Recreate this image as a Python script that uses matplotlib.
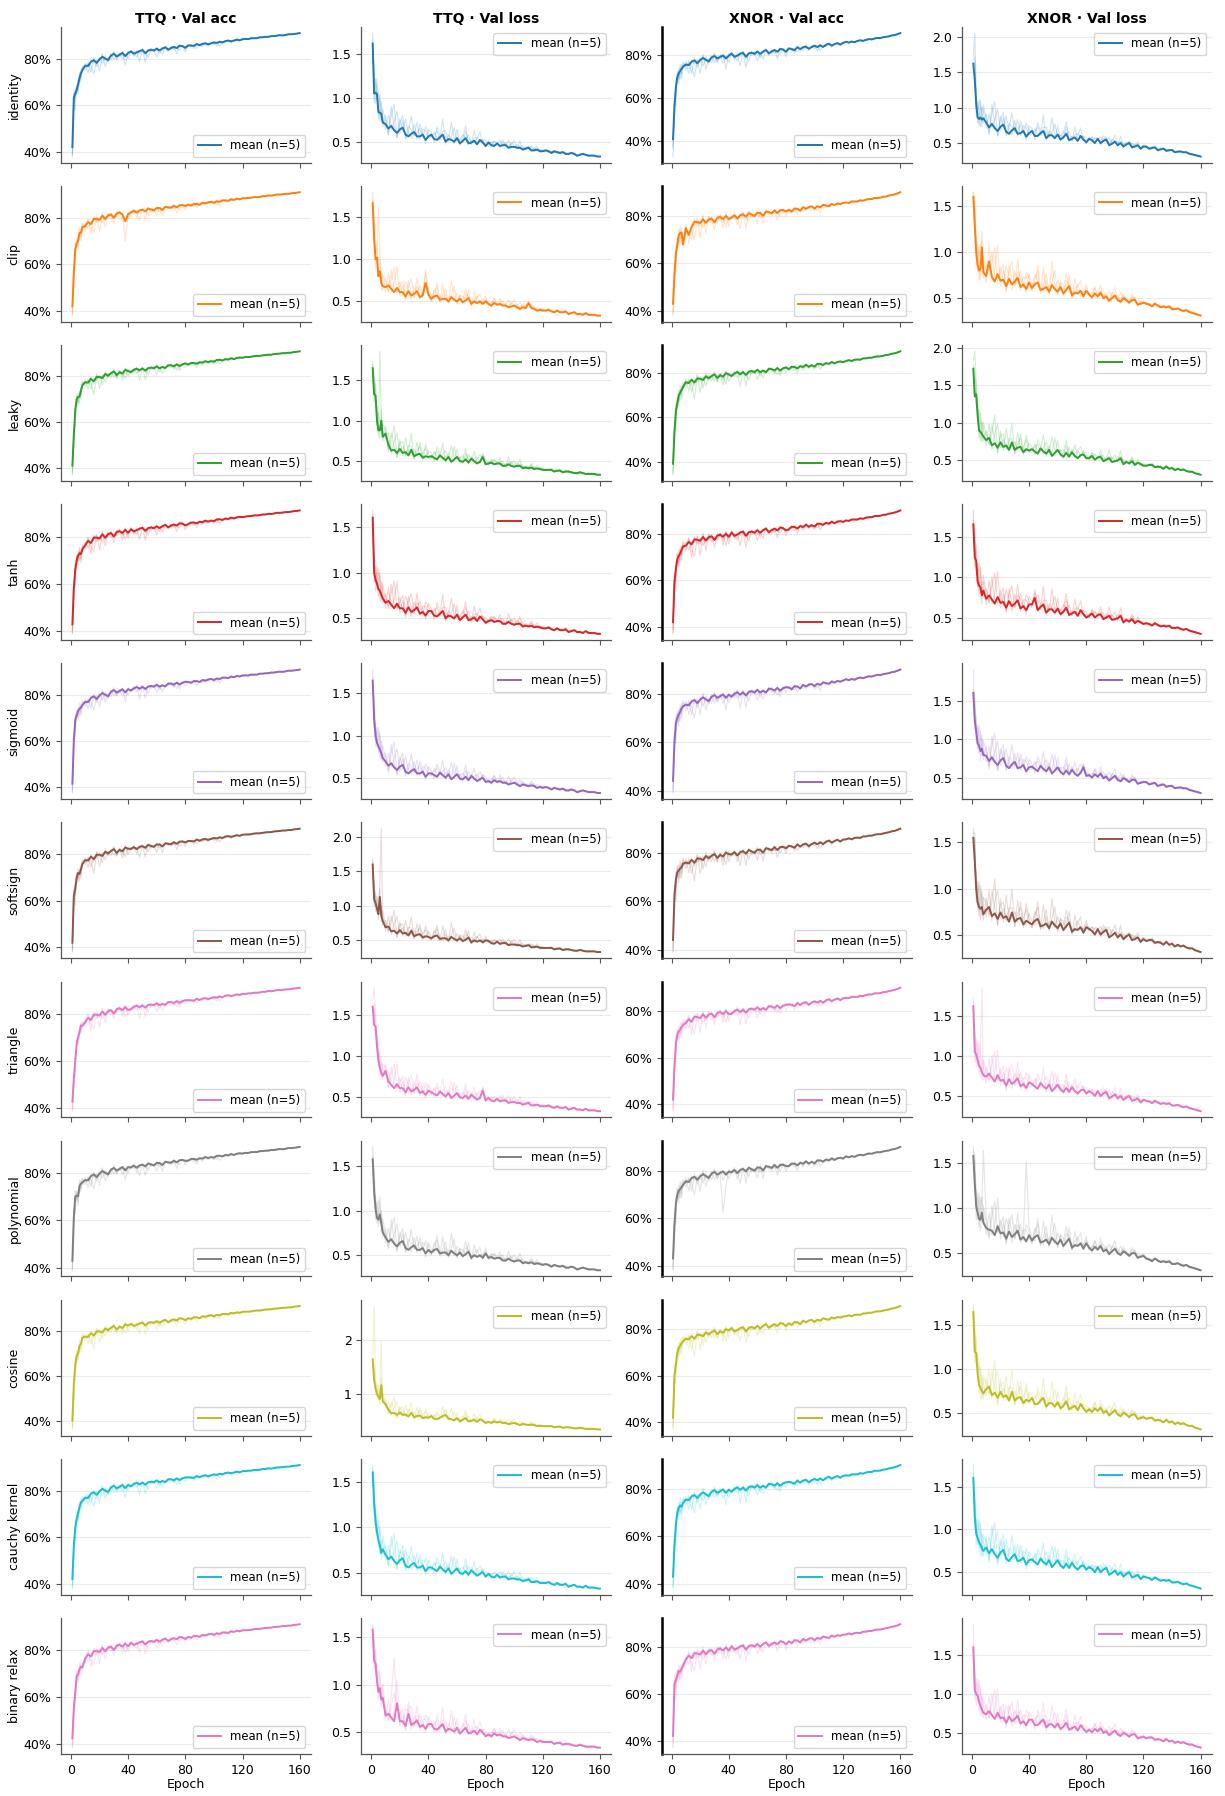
import numpy as np
import matplotlib
matplotlib.use("Agg")
import matplotlib.pyplot as plt
from matplotlib.ticker import PercentFormatter

ACTIVATIONS = ["identity", "clip", "leaky", "tanh", "sigmoid", "softsign",
               "triangle", "polynomial", "cosine", "cauchy kernel", "binary relax"]
COLUMNS = [("TTQ", "acc"), ("TTQ", "loss"), ("XNOR", "acc"), ("XNOR", "loss")]
COLUMN_TITLES = ["TTQ · Val acc", "TTQ · Val loss", "XNOR · Val acc", "XNOR · Val loss"]
COLORS = ["#1f77b4", "#ff7f0e", "#2ca02c", "#d62728", "#9467bd", "#8c564b",
          "#e377c2", "#7f7f7f", "#bcbd22", "#17becf", "#e377c2"]
EPOCHS = list(range(1, 9)) + list(range(10, 161, 2))
X_TICKS = [0, 40, 80, 120, 160]

# ---- mean validation accuracy, tenths of a percent (epochs 1..8, then every 2nd epoch)
acc_ttq_identity = [
    420, 630, 650, 665, 690, 718, 738, 752,
    770, 769, 787, 794, 782, 798, 808, 801, 794, 814, 821, 810, 817, 825, 811, 825,
    831, 822, 827, 833, 837, 824, 835, 839, 835, 843, 836, 844, 849, 839, 846, 851, 846, 856, 854, 847,
    857, 857, 855, 863, 858, 864, 866, 862, 866, 870, 868, 873, 870, 876, 878, 875, 878, 882, 879, 884,
    885, 884, 888, 888, 888, 892, 892, 894, 894, 897, 897, 899, 901, 900, 902, 905, 905, 906, 908, 910]
acc_ttq_clip = [
    420, 560, 665, 690, 702, 735, 736, 760,
    764, 782, 773, 796, 795, 792, 809, 795, 810, 815, 800, 819, 823, 815, 785, 816,
    823, 831, 822, 832, 835, 828, 840, 836, 832, 842, 842, 834, 847, 845, 843, 852, 845, 854, 855, 851,
    856, 853, 860, 860, 856, 865, 862, 867, 869, 865, 871, 869, 875, 875, 873, 880, 877, 882, 880, 884,
    884, 886, 886, 889, 889, 890, 893, 893, 896, 895, 897, 900, 900, 901, 903, 903, 905, 907, 908, 910]
acc_ttq_leaky = [
    410, 540, 650, 700, 710, 712, 738, 762,
    775, 773, 790, 779, 798, 798, 793, 811, 803, 814, 822, 806, 819, 813, 829, 824,
    819, 829, 834, 827, 835, 826, 836, 839, 836, 844, 836, 842, 837, 849, 849, 845, 853, 846, 853, 857,
    852, 859, 859, 856, 862, 861, 867, 863, 867, 865, 872, 873, 870, 876, 874, 880, 876, 881, 883, 882,
    885, 885, 886, 889, 890, 890, 892, 894, 895, 895, 898, 899, 900, 902, 902, 904, 904, 907, 908, 910]
acc_ttq_tanh = [
    430, 580, 660, 700, 720, 730, 726, 746,
    764, 782, 773, 796, 795, 792, 809, 795, 810, 815, 800, 819, 823, 815, 828, 816,
    831, 822, 827, 833, 837, 824, 835, 839, 835, 843, 836, 844, 849, 839, 846, 851, 846, 856, 854, 847,
    852, 859, 859, 856, 862, 861, 867, 863, 867, 865, 872, 873, 870, 876, 874, 880, 876, 881, 883, 882,
    884, 886, 886, 889, 889, 890, 893, 893, 896, 895, 897, 900, 900, 901, 903, 903, 905, 907, 908, 910]
acc_ttq_sigmoid = [
    415, 600, 690, 712, 730, 740, 745, 756,
    770, 769, 787, 794, 782, 798, 808, 801, 794, 814, 821, 810, 817, 825, 811, 825,
    819, 829, 834, 827, 835, 826, 836, 839, 836, 844, 836, 842, 837, 849, 849, 845, 853, 846, 853, 857,
    856, 853, 860, 860, 856, 865, 862, 867, 869, 865, 871, 869, 875, 875, 873, 880, 877, 882, 880, 884,
    885, 884, 888, 888, 888, 892, 892, 894, 894, 897, 897, 899, 901, 900, 902, 905, 905, 906, 908, 910]
acc_ttq_softsign = [
    420, 620, 652, 700, 720, 716, 736, 758,
    775, 773, 790, 779, 798, 798, 793, 811, 803, 814, 822, 806, 819, 813, 829, 824,
    823, 831, 822, 832, 835, 828, 840, 836, 832, 842, 842, 834, 847, 845, 843, 852, 845, 854, 855, 851,
    857, 857, 855, 863, 858, 864, 866, 862, 866, 870, 868, 873, 870, 876, 878, 875, 878, 882, 879, 884,
    885, 885, 886, 889, 890, 890, 892, 894, 895, 895, 898, 899, 900, 902, 902, 904, 904, 907, 908, 910]
acc_ttq_triangle = [
    425, 520, 600, 670, 700, 722, 750, 748,
    764, 782, 773, 796, 795, 792, 809, 795, 810, 815, 800, 819, 823, 815, 828, 816,
    819, 829, 834, 827, 835, 826, 836, 839, 836, 844, 836, 842, 837, 849, 849, 845, 853, 846, 853, 857,
    857, 857, 855, 863, 858, 864, 866, 862, 866, 870, 868, 873, 870, 876, 878, 875, 878, 882, 879, 884,
    884, 886, 886, 889, 889, 890, 893, 893, 896, 895, 897, 900, 900, 901, 903, 903, 905, 907, 908, 910]
acc_ttq_polynomial = [
    430, 610, 700, 705, 702, 745, 755, 760,
    770, 769, 787, 794, 782, 798, 808, 801, 794, 814, 821, 810, 817, 825, 811, 825,
    823, 831, 822, 832, 835, 828, 840, 836, 832, 842, 842, 834, 847, 845, 843, 852, 845, 854, 855, 851,
    852, 859, 859, 856, 862, 861, 867, 863, 867, 865, 872, 873, 870, 876, 874, 880, 876, 881, 883, 882,
    885, 884, 888, 888, 888, 892, 892, 894, 894, 897, 897, 899, 901, 900, 902, 905, 905, 906, 908, 910]
acc_ttq_cosine = [
    405, 560, 650, 690, 700, 735, 742, 770,
    775, 773, 790, 779, 798, 798, 793, 811, 803, 814, 822, 806, 819, 813, 829, 824,
    831, 822, 827, 833, 837, 824, 835, 839, 835, 843, 836, 844, 849, 839, 846, 851, 846, 856, 854, 847,
    856, 853, 860, 860, 856, 865, 862, 867, 869, 865, 871, 869, 875, 875, 873, 880, 877, 882, 880, 884,
    885, 885, 886, 889, 890, 890, 892, 894, 895, 895, 898, 899, 900, 902, 902, 904, 904, 907, 908, 910]
acc_ttq_cauchy_kernel = [
    420, 560, 640, 680, 702, 730, 750, 756,
    770, 769, 787, 794, 782, 798, 808, 801, 794, 814, 821, 810, 817, 825, 811, 825,
    819, 829, 834, 827, 835, 826, 836, 839, 836, 844, 836, 842, 837, 849, 849, 845, 853, 846, 853, 857,
    857, 857, 855, 863, 858, 864, 866, 862, 866, 870, 868, 873, 870, 876, 878, 875, 878, 882, 879, 884,
    884, 886, 886, 889, 889, 890, 893, 893, 896, 895, 897, 900, 900, 901, 903, 903, 905, 907, 908, 910]
acc_ttq_binary_relax = [
    425, 550, 620, 690, 696, 720, 730, 726,
    764, 782, 773, 796, 795, 792, 809, 795, 810, 815, 800, 819, 823, 815, 828, 816,
    831, 822, 827, 833, 837, 824, 835, 839, 835, 843, 836, 844, 849, 839, 846, 851, 846, 856, 854, 847,
    856, 853, 860, 860, 856, 865, 862, 867, 869, 865, 871, 869, 875, 875, 873, 880, 877, 882, 880, 884,
    885, 885, 886, 889, 890, 890, 892, 894, 895, 895, 898, 899, 900, 902, 902, 904, 904, 907, 908, 910]

acc_xnor_identity = [
    410, 560, 650, 695, 715, 725, 735, 745,
    755, 752, 768, 774, 761, 776, 785, 777, 769, 788, 794, 783, 790, 797, 783, 796,
    805, 791, 796, 805, 809, 791, 806, 810, 804, 815, 804, 815, 822, 807, 815, 822, 814, 827, 824, 814,
    829, 827, 821, 835, 826, 835, 838, 828, 836, 842, 836, 844, 836, 846, 851, 843, 849, 854, 847, 855,
    860, 856, 861, 858, 864, 867, 864, 869, 872, 871, 875, 878, 877, 881, 883, 885, 889, 891, 895, 900]
acc_xnor_clip = [
    430, 550, 640, 680, 720, 728, 730, 680,
    749, 720, 754, 776, 774, 770, 786, 771, 785, 789, 773, 792, 796, 787, 800, 787,
    793, 803, 789, 803, 807, 797, 812, 806, 800, 813, 813, 801, 819, 816, 811, 824, 812, 824, 825, 819,
    826, 819, 831, 830, 822, 837, 830, 838, 840, 832, 841, 837, 847, 844, 841, 851, 846, 853, 850, 855,
    857, 855, 861, 861, 861, 866, 864, 869, 871, 871, 876, 876, 877, 881, 882, 886, 888, 891, 895, 900]
acc_xnor_leaky = [
    390, 530, 630, 665, 700, 712, 725, 738,
    760, 756, 771, 759, 777, 776, 770, 787, 778, 788, 795, 779, 792, 785, 801, 795,
    788, 800, 806, 796, 806, 793, 807, 811, 805, 816, 805, 813, 805, 821, 819, 814, 824, 813, 823, 827,
    819, 830, 829, 823, 833, 829, 839, 830, 837, 831, 843, 843, 838, 847, 843, 852, 845, 852, 854, 851,
    856, 860, 856, 862, 863, 862, 868, 868, 871, 871, 875, 877, 877, 880, 883, 885, 889, 891, 895, 900]
acc_xnor_tanh = [
    420, 590, 650, 690, 705, 715, 730, 745,
    749, 765, 754, 776, 774, 770, 786, 771, 785, 789, 773, 792, 796, 787, 800, 787,
    805, 791, 796, 805, 809, 791, 806, 810, 804, 815, 804, 815, 822, 807, 815, 822, 814, 827, 824, 814,
    819, 830, 829, 823, 833, 829, 839, 830, 837, 831, 843, 843, 838, 847, 843, 852, 845, 852, 854, 851,
    857, 855, 861, 861, 861, 866, 864, 869, 871, 871, 876, 876, 877, 881, 882, 886, 888, 891, 895, 900]
acc_xnor_sigmoid = [
    440, 600, 680, 700, 715, 725, 740, 748,
    755, 752, 768, 774, 761, 776, 785, 777, 769, 788, 794, 783, 790, 797, 783, 796,
    788, 800, 806, 796, 806, 793, 807, 811, 805, 816, 805, 813, 805, 821, 819, 814, 824, 813, 823, 827,
    826, 819, 831, 830, 822, 837, 830, 838, 840, 832, 841, 837, 847, 844, 841, 851, 846, 853, 850, 855,
    860, 856, 861, 858, 864, 867, 864, 869, 872, 871, 875, 878, 877, 881, 883, 885, 889, 891, 895, 900]
acc_xnor_softsign = [
    440, 620, 690, 720, 728, 735, 740, 755,
    760, 756, 771, 759, 777, 776, 770, 787, 778, 788, 795, 779, 792, 785, 801, 795,
    793, 803, 789, 803, 807, 797, 812, 806, 800, 813, 813, 801, 819, 816, 811, 824, 812, 824, 825, 819,
    829, 827, 821, 835, 826, 835, 838, 828, 836, 842, 836, 844, 836, 846, 851, 843, 849, 854, 847, 855,
    856, 860, 856, 862, 863, 862, 868, 868, 871, 871, 875, 877, 877, 880, 883, 885, 889, 891, 895, 900]
acc_xnor_triangle = [
    420, 560, 660, 700, 712, 720, 732, 740,
    749, 765, 754, 776, 774, 770, 786, 771, 785, 789, 773, 792, 796, 787, 800, 787,
    788, 800, 806, 796, 806, 793, 807, 811, 805, 816, 805, 813, 805, 821, 819, 814, 824, 813, 823, 827,
    829, 827, 821, 835, 826, 835, 838, 828, 836, 842, 836, 844, 836, 846, 851, 843, 849, 854, 847, 855,
    857, 855, 861, 861, 861, 866, 864, 869, 871, 871, 876, 876, 877, 881, 882, 886, 888, 891, 895, 900]
acc_xnor_polynomial = [
    430, 570, 660, 700, 715, 722, 730, 740,
    755, 752, 768, 774, 761, 776, 785, 777, 769, 788, 794, 783, 790, 797, 783, 796,
    793, 803, 789, 803, 807, 797, 812, 806, 800, 813, 813, 801, 819, 816, 811, 824, 812, 824, 825, 819,
    819, 830, 829, 823, 833, 829, 839, 830, 837, 831, 843, 843, 838, 847, 843, 852, 845, 852, 854, 851,
    860, 856, 861, 858, 864, 867, 864, 869, 872, 871, 875, 878, 877, 881, 883, 885, 889, 891, 895, 900]
acc_xnor_cosine = [
    420, 600, 650, 700, 720, 730, 740, 748,
    760, 756, 771, 759, 777, 776, 770, 787, 778, 788, 795, 779, 792, 785, 801, 795,
    805, 791, 796, 805, 809, 791, 806, 810, 804, 815, 804, 815, 822, 807, 815, 822, 814, 827, 824, 814,
    826, 819, 831, 830, 822, 837, 830, 838, 840, 832, 841, 837, 847, 844, 841, 851, 846, 853, 850, 855,
    856, 860, 856, 862, 863, 862, 868, 868, 871, 871, 875, 877, 877, 880, 883, 885, 889, 891, 895, 900]
acc_xnor_cauchy_kernel = [
    430, 560, 650, 700, 720, 730, 725, 740,
    755, 752, 768, 774, 761, 776, 785, 777, 769, 788, 794, 783, 790, 797, 783, 796,
    788, 800, 806, 796, 806, 793, 807, 811, 805, 816, 805, 813, 805, 821, 819, 814, 824, 813, 823, 827,
    829, 827, 821, 835, 826, 835, 838, 828, 836, 842, 836, 844, 836, 846, 851, 843, 849, 854, 847, 855,
    857, 855, 861, 861, 861, 866, 864, 869, 871, 871, 876, 876, 877, 881, 882, 886, 888, 891, 895, 900]
acc_xnor_binary_relax = [
    420, 640, 660, 680, 700, 695, 710, 720,
    749, 765, 754, 776, 774, 770, 786, 771, 785, 789, 773, 792, 796, 787, 800, 787,
    805, 791, 796, 805, 809, 791, 806, 810, 804, 815, 804, 815, 822, 807, 815, 822, 814, 827, 824, 814,
    826, 819, 831, 830, 822, 837, 830, 838, 840, 832, 841, 837, 847, 844, 841, 851, 846, 853, 850, 855,
    856, 860, 856, 862, 863, 862, 868, 868, 871, 871, 875, 877, 877, 880, 883, 885, 889, 891, 895, 900]

# ---- mean validation loss, hundredths (same epoch grid)
loss_ttq_identity = [
    162, 105, 106, 104, 84, 83, 82, 72,
    70, 65, 68, 63, 60, 64, 66, 58, 56, 59, 61, 56, 56, 58, 52, 56,
    58, 53, 52, 55, 58, 50, 53, 52, 50, 54, 48, 51, 54, 48, 49, 51, 47, 52, 49, 45,
    49, 46, 45, 48, 45, 46, 46, 43, 44, 44, 43, 43, 41, 42, 43, 40, 40, 41, 39, 39,
    40, 39, 37, 39, 38, 37, 38, 36, 36, 37, 36, 34, 35, 36, 35, 34, 34, 34, 33, 33]
loss_ttq_clip = [
    167, 125, 100, 102, 80, 86, 72, 68,
    67, 69, 65, 61, 66, 61, 61, 56, 62, 57, 59, 62, 55, 57, 72, 58,
    53, 56, 57, 52, 53, 53, 50, 55, 52, 50, 53, 49, 51, 54, 47, 50, 48, 50, 47, 50,
    47, 45, 48, 46, 47, 45, 45, 43, 44, 45, 43, 41, 43, 42, 48, 42, 41, 39, 40, 39,
    39, 40, 38, 37, 39, 37, 37, 38, 35, 36, 37, 35, 35, 34, 36, 34, 34, 34, 33, 33]
loss_ttq_leaky = [
    165, 133, 131, 100, 88, 88, 100, 80,
    84, 70, 63, 64, 60, 65, 60, 61, 57, 64, 56, 58, 59, 54, 56, 55,
    56, 54, 52, 57, 54, 51, 55, 49, 52, 55, 50, 49, 52, 48, 53, 50, 47, 49, 55, 46,
    47, 48, 46, 47, 47, 44, 44, 46, 44, 43, 44, 44, 41, 42, 41, 42, 40, 41, 40, 39,
    39, 39, 39, 37, 38, 38, 36, 37, 37, 36, 35, 35, 36, 35, 34, 34, 34, 34, 33, 33]
loss_ttq_tanh = [
    160, 100, 92, 88, 82, 80, 76, 72,
    67, 69, 65, 61, 66, 61, 61, 56, 62, 57, 59, 62, 55, 57, 53, 58,
    58, 53, 52, 55, 58, 50, 53, 52, 50, 54, 48, 51, 54, 48, 49, 51, 47, 52, 49, 45,
    47, 48, 46, 47, 47, 44, 44, 46, 44, 43, 44, 44, 41, 42, 41, 42, 40, 41, 40, 39,
    39, 40, 38, 37, 39, 37, 37, 38, 35, 36, 37, 35, 35, 34, 36, 34, 34, 34, 33, 33]
loss_ttq_sigmoid = [
    165, 120, 100, 92, 88, 84, 80, 74,
    70, 65, 68, 63, 60, 64, 66, 58, 56, 59, 61, 56, 56, 58, 52, 56,
    56, 54, 52, 57, 54, 51, 55, 49, 52, 55, 50, 49, 52, 48, 53, 50, 47, 49, 51, 46,
    47, 45, 48, 46, 47, 45, 45, 43, 44, 45, 43, 41, 43, 42, 41, 42, 41, 39, 40, 39,
    40, 39, 37, 39, 38, 37, 38, 36, 36, 37, 36, 34, 35, 36, 35, 34, 34, 34, 33, 33]
loss_ttq_softsign = [
    160, 110, 104, 96, 88, 113, 86, 78,
    69, 70, 63, 64, 60, 65, 60, 61, 57, 64, 56, 58, 59, 54, 56, 55,
    53, 56, 57, 52, 53, 53, 50, 55, 52, 50, 53, 49, 51, 54, 47, 50, 48, 50, 47, 50,
    49, 46, 45, 48, 45, 46, 46, 43, 44, 44, 43, 43, 41, 42, 43, 40, 40, 41, 39, 39,
    39, 39, 39, 37, 38, 38, 36, 37, 37, 36, 35, 35, 36, 35, 34, 34, 34, 34, 33, 33]
loss_ttq_triangle = [
    160, 138, 136, 112, 95, 86, 80, 76,
    82, 69, 65, 61, 66, 61, 61, 56, 62, 57, 59, 62, 55, 57, 53, 58,
    56, 54, 52, 57, 54, 51, 55, 49, 52, 55, 50, 49, 52, 48, 53, 50, 47, 49, 58, 46,
    49, 46, 45, 48, 45, 46, 46, 43, 44, 44, 43, 43, 41, 42, 43, 40, 40, 41, 39, 39,
    39, 40, 38, 37, 39, 37, 37, 38, 35, 36, 37, 35, 35, 34, 36, 34, 34, 34, 33, 33]
loss_ttq_polynomial = [
    158, 122, 102, 92, 90, 96, 86, 76,
    70, 65, 68, 63, 60, 64, 66, 58, 56, 59, 61, 56, 56, 58, 52, 56,
    53, 56, 57, 52, 53, 53, 50, 55, 52, 50, 53, 49, 51, 54, 47, 50, 48, 50, 47, 52,
    47, 48, 46, 47, 47, 44, 44, 46, 44, 43, 44, 44, 41, 42, 41, 42, 40, 41, 40, 39,
    40, 39, 37, 39, 38, 37, 38, 36, 36, 37, 36, 34, 35, 36, 35, 34, 34, 34, 33, 33]
loss_ttq_cosine = [
    164, 125, 110, 100, 94, 90, 116, 86,
    80, 70, 63, 64, 60, 65, 60, 61, 57, 64, 56, 58, 59, 54, 56, 55,
    58, 53, 52, 55, 58, 60, 53, 52, 50, 54, 48, 51, 54, 48, 49, 51, 47, 52, 49, 45,
    47, 45, 48, 46, 47, 45, 45, 43, 44, 45, 43, 41, 43, 42, 41, 42, 41, 39, 40, 39,
    39, 39, 39, 37, 38, 38, 36, 37, 37, 36, 35, 35, 36, 35, 34, 34, 34, 34, 33, 33]
loss_ttq_cauchy_kernel = [
    160, 126, 106, 95, 86, 80, 72, 76,
    70, 65, 68, 63, 60, 64, 66, 58, 56, 59, 61, 56, 56, 58, 52, 56,
    56, 54, 52, 57, 54, 51, 55, 49, 52, 55, 50, 49, 52, 48, 53, 50, 47, 49, 51, 46,
    49, 46, 45, 48, 45, 46, 46, 43, 44, 44, 43, 43, 41, 42, 43, 40, 40, 41, 39, 39,
    39, 40, 38, 37, 39, 37, 37, 38, 35, 36, 37, 35, 35, 34, 36, 34, 34, 34, 33, 33]
loss_ttq_binary_relax = [
    158, 126, 122, 104, 92, 96, 84, 86,
    67, 69, 65, 61, 80, 61, 61, 56, 69, 57, 59, 62, 55, 57, 53, 58,
    58, 53, 52, 55, 58, 50, 53, 52, 50, 54, 48, 51, 54, 48, 49, 51, 47, 52, 49, 45,
    47, 45, 48, 46, 47, 45, 45, 43, 44, 45, 43, 41, 43, 42, 41, 42, 41, 39, 40, 39,
    39, 39, 39, 37, 38, 38, 36, 37, 37, 36, 35, 35, 36, 35, 34, 34, 34, 34, 33, 33]

loss_xnor_identity = [
    162, 140, 105, 86, 84, 86, 83, 85,
    79, 72, 77, 71, 67, 73, 76, 66, 63, 68, 71, 63, 64, 67, 59, 64,
    67, 60, 60, 64, 67, 57, 61, 61, 57, 62, 55, 58, 63, 54, 56, 58, 53, 60, 55, 51,
    56, 54, 50, 56, 50, 53, 55, 47, 49, 52, 47, 50, 45, 48, 50, 44, 45, 47, 42, 45,
    45, 42, 43, 44, 40, 41, 42, 39, 40, 40, 37, 38, 38, 37, 37, 35, 34, 33, 32, 31]
loss_xnor_clip = [
    160, 130, 100, 86, 80, 82, 105, 78,
    74, 90, 73, 68, 76, 69, 70, 63, 71, 65, 68, 72, 62, 65, 60, 67,
    61, 65, 67, 59, 60, 62, 57, 64, 60, 57, 62, 55, 59, 63, 53, 56, 55, 58, 52, 58,
    54, 51, 55, 52, 56, 50, 52, 47, 50, 53, 48, 46, 50, 48, 45, 48, 48, 43, 44, 45,
    44, 43, 41, 44, 42, 40, 41, 40, 41, 38, 38, 39, 37, 36, 37, 35, 34, 33, 32, 31]
loss_xnor_leaky = [
    172, 135, 138, 110, 90, 88, 85, 82,
    77, 80, 70, 73, 67, 74, 68, 70, 64, 74, 64, 67, 68, 61, 65, 63,
    65, 62, 59, 66, 62, 59, 64, 56, 60, 64, 58, 55, 60, 55, 61, 56, 53, 57, 58, 53,
    53, 56, 51, 54, 55, 49, 51, 53, 48, 49, 50, 53, 45, 48, 46, 49, 44, 47, 45, 43,
    43, 44, 44, 41, 42, 41, 39, 42, 39, 40, 37, 39, 37, 38, 36, 35, 35, 33, 32, 31]
loss_xnor_tanh = [
    165, 125, 120, 95, 90, 88, 78, 84,
    74, 78, 73, 68, 76, 69, 70, 63, 71, 65, 68, 72, 62, 65, 60, 67,
    67, 75, 60, 64, 67, 57, 61, 61, 57, 62, 55, 58, 63, 54, 56, 58, 53, 60, 55, 51,
    53, 56, 51, 54, 55, 49, 51, 53, 48, 49, 50, 53, 45, 48, 46, 49, 44, 47, 45, 43,
    44, 43, 41, 44, 42, 40, 41, 40, 41, 38, 38, 39, 37, 36, 37, 35, 34, 33, 32, 31]
loss_xnor_sigmoid = [
    160, 125, 110, 95, 92, 85, 88, 80,
    79, 72, 77, 71, 67, 73, 76, 66, 63, 68, 71, 63, 64, 67, 59, 64,
    65, 62, 59, 66, 62, 59, 64, 56, 60, 64, 58, 55, 60, 55, 61, 56, 53, 57, 64, 53,
    54, 51, 55, 52, 56, 50, 52, 47, 50, 53, 48, 46, 50, 48, 45, 48, 48, 43, 44, 45,
    45, 42, 43, 44, 40, 41, 42, 39, 40, 40, 37, 38, 38, 37, 37, 35, 34, 33, 32, 31]
loss_xnor_softsign = [
    155, 130, 100, 85, 80, 78, 80, 72,
    77, 80, 70, 73, 67, 74, 68, 70, 64, 74, 64, 67, 68, 61, 65, 63,
    61, 65, 67, 59, 60, 62, 57, 64, 60, 57, 62, 55, 59, 63, 53, 56, 55, 58, 52, 58,
    56, 54, 50, 56, 50, 53, 55, 47, 49, 52, 47, 50, 45, 48, 50, 44, 45, 47, 42, 45,
    43, 44, 44, 41, 42, 41, 39, 42, 39, 40, 37, 39, 37, 38, 36, 35, 35, 33, 32, 31]
loss_xnor_triangle = [
    162, 105, 102, 95, 88, 85, 80, 76,
    74, 78, 73, 68, 76, 69, 70, 63, 71, 65, 68, 72, 62, 65, 60, 67,
    65, 62, 59, 66, 62, 59, 64, 56, 60, 64, 58, 55, 60, 55, 61, 56, 53, 57, 58, 53,
    56, 54, 50, 56, 50, 53, 55, 47, 49, 52, 47, 50, 45, 48, 50, 44, 45, 47, 42, 45,
    44, 43, 41, 44, 42, 40, 41, 40, 41, 38, 38, 39, 37, 36, 37, 35, 34, 33, 32, 31]
loss_xnor_polynomial = [
    158, 128, 102, 95, 88, 87, 95, 84,
    78, 76, 75, 70, 80, 72, 73, 66, 74, 68, 71, 75, 65, 68, 63, 70,
    64, 68, 70, 62, 63, 65, 60, 67, 63, 60, 65, 58, 62, 66, 56, 59, 58, 61, 55, 61,
    56, 53, 57, 54, 58, 52, 54, 49, 52, 55, 50, 48, 52, 50, 47, 50, 50, 45, 46, 47,
    44, 43, 41, 44, 42, 40, 41, 40, 41, 38, 38, 39, 37, 36, 37, 35, 34, 33, 32, 31]
loss_xnor_cosine = [
    165, 120, 118, 95, 82, 78, 75, 72,
    77, 80, 70, 73, 67, 74, 68, 70, 64, 74, 64, 67, 68, 61, 65, 63,
    67, 60, 60, 64, 67, 57, 61, 61, 57, 62, 55, 58, 63, 54, 56, 58, 53, 60, 55, 51,
    54, 51, 55, 52, 56, 50, 52, 47, 50, 53, 48, 46, 50, 48, 45, 48, 48, 43, 44, 45,
    43, 44, 44, 41, 42, 41, 39, 42, 39, 40, 37, 39, 37, 38, 36, 35, 35, 33, 32, 31]
loss_xnor_cauchy_kernel = [
    160, 115, 95, 90, 85, 82, 78, 75,
    79, 72, 77, 71, 67, 73, 76, 66, 63, 68, 71, 63, 64, 67, 59, 64,
    65, 62, 59, 66, 62, 59, 64, 56, 60, 64, 58, 55, 60, 55, 61, 56, 53, 57, 58, 53,
    56, 54, 50, 56, 50, 53, 55, 47, 49, 52, 47, 50, 45, 48, 50, 44, 45, 47, 42, 45,
    44, 43, 41, 44, 42, 40, 41, 40, 41, 38, 38, 39, 37, 36, 37, 35, 34, 33, 32, 31]
loss_xnor_binary_relax = [
    160, 105, 100, 98, 90, 85, 80, 76,
    74, 78, 73, 68, 76, 69, 70, 63, 71, 65, 68, 72, 62, 65, 60, 67,
    67, 60, 60, 64, 67, 57, 61, 61, 57, 62, 55, 58, 63, 54, 56, 58, 53, 60, 55, 51,
    54, 51, 55, 52, 56, 50, 52, 47, 50, 53, 48, 46, 50, 48, 45, 48, 48, 43, 44, 45,
    43, 44, 44, 41, 42, 41, 39, 42, 39, 40, 37, 39, 37, 38, 36, 35, 35, 33, 32, 31]

# ---- individual seeds: offsets from the mean (accuracy in tenths of a percent, loss in hundredths)
acc_seed_a = [
    -40, 20, -30, 15, -25, 10, -35, 12,
    -20, 15, -45, 10, -15, 8, -30, 12, -10, 6, -25, 9, -8, 5, -40, 7,
    -6, 8, -20, 5, -4, 6, -30, 4, -5, 7, -15, 3, -4, 5, -10, 3, -25, 4, -3, 5,
    -4, 3, -12, 4, -3, 2, -8, 3, -2, 4, -15, 2, -3, 2, -5, 2, -2, 3, -4, 1,
    -2, 2, -3, 1, -2, 2, -1, 1, -2, 1, -1, 2, -1, 1, -1, 1, -1, 1, -1, 0]
acc_seed_b = [
    -35, -60, 25, -20, 18, -30, 15, -10,
    12, -30, 8, -12, 14, -50, 6, -9, 10, -20, 5, -12, 7, -30, 4, -8,
    6, -12, 4, -45, 5, -8, 3, -10, 6, -35, 4, -6, 3, -8, 5, -12, 2, -20, 3, -5,
    3, -6, 2, -18, 4, -5, 2, -7, 3, -10, 2, -4, 3, -6, 1, -8, 2, -3, 1, -2,
    1, -2, 2, -1, 1, -3, 1, -1, 2, -1, 1, -2, 0, -1, 1, -1, 0, -1, 1, 0]
acc_seed_c = [
    -25, 35, -70, 22, -40, 25, -20, 18,
    -8, 10, -15, -60, 9, -10, 14, -35, 8, -6, 11, -15, 6, -12, 9, -25,
    5, -6, 8, -10, 4, -40, 6, -5, 7, -12, 3, -28, 5, -4, 6, -9, 3, -6, 4, -18,
    3, -4, 5, -6, 2, -12, 3, -4, 2, -5, 3, -20, 2, -3, 2, -4, 1, -2, 2, -3,
    1, -1, 2, -2, 1, -1, 1, -2, 1, -1, 0, -1, 1, -1, 0, -1, 1, 0, -1, 0]
loss_seed_a = [
    8, -10, 15, 5, -8, 20, 6, -5,
    10, -6, 22, 4, -5, 12, -4, 18, 3, -5, 9, -3, 14, 2, -4, 8,
    3, -4, 15, 2, -3, 6, -2, 20, 3, -3, 5, -2, 8, 2, -2, 12, 1, -2, 4, -1,
    2, -2, 6, 1, -2, 3, -1, 9, 1, -1, 4, -1, 2, 1, -1, 5, 1, -1, 2, 0,
    1, -1, 2, 0, -1, 1, 0, 2, -1, 1, 0, -1, 1, 0, 0, 1, 0, 0, 1, 0]
loss_seed_b = [
    -5, 20, -12, 18, 10, -10, 14, 8,
    -6, 15, -4, 10, 25, -5, 8, -3, 12, 4, -4, 16, -3, 6, 10, -2,
    -3, 8, 2, -2, 18, -3, 5, 1, -2, 10, -2, 4, 14, -1, 3, -2, 6, 9, -1, 3,
    -2, 4, 1, -1, 7, -1, 3, -1, 5, 1, -1, 8, -1, 2, 1, -1, 3, -1, 1, 2,
    -1, 1, 0, 1, -1, 2, 0, -1, 1, 0, 1, -1, 0, 1, 0, -1, 0, 1, 0, 0]
loss_seed_c = [
    4, 25, 8, -6, 22, 12, -8, 15,
    5, -8, 12, 30, -6, 7, 14, -5, 6, 20, -4, 5, 9, -3, 15, 4,
    -2, 5, 10, -3, 4, 12, -2, 3, 16, -2, 4, 7, -1, 10, -2, 3, 8, -1, 3, 6,
    -1, 3, 5, -1, 2, 6, -1, 2, 3, 7, -1, 2, 4, -1, 2, 3, 0, 4, -1, 1,
    0, 1, 1, -1, 1, 0, 1, 0, -1, 1, 0, 0, 1, -1, 0, 0, 1, 0, 0, 0]

SEED_SPREAD = {"TTQ": 1.0, "XNOR": 1.25}

# single-seed excursions (epoch, value): percent for accuracy, raw value for loss
SEED_SPIKES = {
    ("TTQ", "acc", "clip"): [(38, 70.0)],
    ("TTQ", "loss", "identity"): [(1, 1.74)],
    ("TTQ", "loss", "clip"): [(1, 1.80), (5, 1.62)],
    ("TTQ", "loss", "leaky"): [(6, 1.86)],
    ("TTQ", "loss", "sigmoid"): [(1, 1.78)],
    ("TTQ", "loss", "softsign"): [(7, 2.12)],
    ("TTQ", "loss", "triangle"): [(2, 1.83)],
    ("TTQ", "loss", "polynomial"): [(1, 1.72)],
    ("TTQ", "loss", "cosine"): [(2, 2.64), (7, 1.95)],
    ("TTQ", "loss", "binary relax"): [(1, 1.64), (16, 1.28)],
    ("XNOR", "acc", "identity"): [(1, 33.0)],
    ("XNOR", "acc", "polynomial"): [(36, 62.5)],
    ("XNOR", "loss", "identity"): [(2, 2.05)],
    ("XNOR", "loss", "clip"): [(1, 1.65)],
    ("XNOR", "loss", "leaky"): [(2, 1.95)],
    ("XNOR", "loss", "tanh"): [(1, 1.82)],
    ("XNOR", "loss", "sigmoid"): [(1, 1.90)],
    ("XNOR", "loss", "triangle"): [(7, 1.85)],
    ("XNOR", "loss", "polynomial"): [(8, 1.64), (38, 1.52)],
    ("XNOR", "loss", "cosine"): [(1, 1.72)],
    ("XNOR", "loss", "cauchy kernel"): [(1, 1.75)],
    ("XNOR", "loss", "binary relax"): [(1, 1.90)],
}


def mean_series(metric, method, act):
    name = f"{metric}_{method.lower()}_{act.replace(' ', '_')}"
    values = globals()[name]
    assert len(values) == len(EPOCHS), name
    return np.asarray(values, dtype=float)


ACC_SEEDS = [acc_seed_a, acc_seed_b, acc_seed_c]
LOSS_SEEDS = [loss_seed_a, loss_seed_b, loss_seed_c]

plt.rcParams["font.family"] = ["DejaVu Sans"]
fig, axes = plt.subplots(len(ACTIVATIONS), len(COLUMNS), figsize=(12.25, 17.96),
                         dpi=100, sharex=True)
fig.subplots_adjust(left=0.0498, right=0.9894, top=0.985, bottom=0.0235,
                    wspace=0.201, hspace=0.172)

x = np.asarray(EPOCHS, dtype=float)
for i, act in enumerate(ACTIVATIONS):
    color = COLORS[i]
    for j, (method, metric) in enumerate(COLUMNS):
        ax = axes[i, j]
        unit = 10.0 if metric == "acc" else 100.0
        mean = mean_series(metric, method, act) / unit
        seeds = ACC_SEEDS if metric == "acc" else LOSS_SEEDS
        for k, offs in enumerate(seeds):
            run = mean + SEED_SPREAD[method] * np.asarray(offs, dtype=float) / unit
            if k == 0:
                for ep, val in SEED_SPIKES.get((method, metric, act), []):
                    run[EPOCHS.index(ep)] = val
            ax.plot(x, run, color=color, lw=0.8, alpha=0.2)
        ax.plot(x, mean, color=color, lw=1.4, label="mean (n=5)")

        ax.set_xticks(X_TICKS)
        ax.tick_params(axis="both", labelsize=9, color="#555555", length=3.5)
        ax.yaxis.grid(True, color="#ebebeb", lw=0.8)
        ax.set_axisbelow(True)
        for side in ("top", "right"):
            ax.spines[side].set_visible(False)
        for side in ("left", "bottom"):
            ax.spines[side].set_color("#555555")
            ax.spines[side].set_linewidth(0.9)
        if method == "XNOR" and metric == "acc":
            ax.spines["left"].set_color("black")
            ax.spines["left"].set_linewidth(1.8)
        if metric == "acc":
            ax.yaxis.set_major_formatter(PercentFormatter(xmax=100, decimals=0))
            ax.legend(loc="lower right", fontsize=8.4)
        else:
            ax.legend(loc="upper right", fontsize=8.4)
        if i == 0:
            ax.set_title(COLUMN_TITLES[j], fontsize=10, fontweight="bold", pad=3)
        if j == 0:
            ax.set_ylabel(act, fontsize=9, labelpad=2)
        if i == len(ACTIVATIONS) - 1:
            ax.set_xlabel("Epoch", fontsize=9, labelpad=1)

fig.savefig("out.png", dpi=100)
